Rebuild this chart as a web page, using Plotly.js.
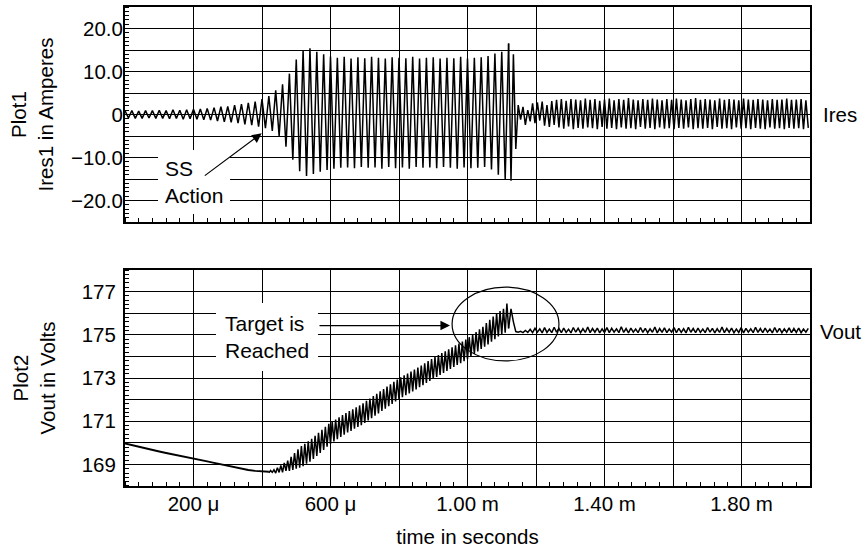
<!DOCTYPE html>
<html>
<head>
<meta charset="utf-8">
<script src="https://cdn.plot.ly/plotly-3.0.1.min.js"></script>
<style>html,body{margin:0;padding:0;background:#fff;}#chart{width:862px;height:550px;}</style>
</head>
<body>
<div id="chart"></div>
<script>
// ---- Data (time in ms) ----
// Ires1 (A): extrema of the tank current during build-up and regulation, sampled every 10 us from 0 ms
const iresBuildup = [
  0.9,-0.8,0.9,-0.9,0.8,-0.9,0.9,-0.8,0.9,-0.9,
  1.0,-0.9,0.9,-1.0,1.1,-0.9,1.0,-1.1,1.1,-1.0,
  1.2,-1.1,1.3,-1.2,1.4,-1.3,1.6,-1.5,1.8,-1.7,
  1.9,-1.8,2.2,-2.0,2.4,-2.3,2.7,-2.5,3.0,-2.8,
  3.6,-3.2,4.3,-3.8,5.6,-5.0,7.0,-7.5,9.5,-10.5,
  12.8,-13.2,15.0,-14.3,15.4,-13.8,14.6,-13.3,14.0,-12.9,
  13.5,-12.6,13.2,-12.4,13.4,-12.3,13.0,-12.5,13.3,-12.2,
  13.1,-12.4,13.4,-12.3,13.2,-12.6,13.0,-12.2,13.3,-12.5,
  13.2,-12.3,13.1,-12.6,13.4,-12.2,13.0,-12.4,13.2,-12.3,
  13.3,-12.5,13.0,-12.2,13.2,-12.4,13.1,-12.6,13.4,-12.3,
  13.0,-12.5,13.2,-12.4,13.3,-12.2,13.6,-12.8,14.2,-14.0,
  14.6,-15.0,16.5
];
// Ires1 (A) after target is reached, sampled every 7 us from 1.12 ms
const iresSettled = [
  16.5,-15.4,14.0,-8.0,2.2,
  -1.2,1.8,-2.4,1.0,-1.6,2.6,-2.0,2.8,-1.4,3.0,-2.6,2.2,-2.9,3.1,-2.4,
  3.4,-3.0,3.6,-3.3,3.2,-2.8,3.6,-3.4,3.5,-3.1,
  3.3,-3.3,3.7,-3.0,3.4,-3.2,3.6,-3.4,3.2,-2.9,
  3.5,-3.3,3.7,-3.1,3.3,-3.4,3.6,-3.0,3.4,-3.3,
  3.8,-3.2,3.5,-3.4,3.3,-2.9,3.6,-3.3,3.4,-3.1,
  3.7,-3.4,3.5,-3.0,3.3,-3.3,3.6,-3.2,3.4,-3.4,
  3.7,-3.1,3.5,-3.3,3.3,-3.0,3.6,-3.4,3.8,-3.2,
  3.4,-3.3,3.6,-3.1,3.5,-3.4,3.3,-2.9,3.7,-3.3,
  3.4,-3.2,3.6,-3.4,3.5,-3.0,3.3,-3.3,3.7,-3.2,
  3.5,-3.4,3.4,-3.1,3.6,-3.3,3.5,-3.4,3.3,-3.0,
  3.6,-3.3,3.4,-3.2,3.5,-3.4,3.7,-3.1,3.4,-3.3,
  3.5,-3.2,3.6,-3.4,3.3,-3.1
];
// Vout (V): initial droop, sampled every 20 us from 0 ms
const voutDroop = [
  169.97,169.89,169.82,169.74,169.67,169.60,169.53,169.47,169.40,169.34,
  169.28,169.21,169.14,169.07,169.00,168.93,168.86,168.80,168.74,168.70,
  168.67,168.66
];
// Vout (V): ramp with ripple, sampled every 5 us from 0.42 ms
const voutRamp = [
  168.61,168.72,168.63,168.75,168.60,168.85,168.63,168.95,168.63,169.07,
  168.70,169.18,168.70,169.35,168.75,169.52,168.80,169.70,168.85,169.85,
  168.92,169.95,169.03,170.07,169.12,170.19,169.25,170.32,169.39,170.46,
  169.53,170.60,169.67,170.74,169.82,170.88,169.95,170.98,170.06,171.08,
  170.17,171.18,170.27,171.28,170.37,171.38,170.48,171.47,170.55,171.55,
  170.65,171.64,170.74,171.73,170.82,171.83,170.92,171.94,171.03,172.05,
  171.14,172.16,171.25,172.27,171.36,172.38,171.47,172.49,171.58,172.60,
  171.69,172.71,171.80,172.82,171.91,172.93,172.02,173.03,172.11,173.12,
  172.20,173.21,172.29,173.30,172.38,173.39,172.47,173.48,172.57,173.58,
  172.67,173.68,172.77,173.78,172.87,173.88,172.96,173.97,173.05,174.06,
  173.14,174.15,173.24,174.24,173.33,174.33,173.42,174.42,173.51,174.51,
  173.60,174.60,173.69,174.69,173.78,174.78,173.87,174.89,173.99,175.01,
  174.11,175.13,174.23,175.25,174.35,175.37,174.45,175.55,174.55,175.70,
  174.68,175.85,174.80,176.00,174.92,176.10,175.02,176.20,175.10,176.45,
  175.30
];
// Vout (V): regulated output, sampled every 7 us from 1.12 ms
const voutSettled = [
  175.30,176.20,175.60,175.15,175.12,175.16,175.10,175.20,175.11,175.26,
  175.10,175.30,175.12,175.28,175.09,175.33,175.11,175.27,175.10,175.35,
  175.12,175.29,175.10,175.31,175.11,175.26,175.09,175.34,175.12,175.30,
  175.10,175.28,175.11,175.36,175.10,175.29,175.12,175.31,175.09,175.27,
  175.11,175.33,175.10,175.30,175.12,175.28,175.10,175.37,175.11,175.29,
  175.09,175.31,175.12,175.27,175.10,175.34,175.11,175.30,175.10,175.28,
  175.12,175.36,175.09,175.29,175.11,175.32,175.10,175.27,175.12,175.33,
  175.10,175.30,175.11,175.28,175.09,175.35,175.12,175.29,175.10,175.31,
  175.11,175.27,175.10,175.34,175.12,175.30,175.09,175.28,175.11,175.36,
  175.10,175.29,175.12,175.31,175.10,175.27,175.11,175.33,175.09,175.30,
  175.12,175.28,175.10,175.35,175.11,175.29,175.10,175.31,175.12,175.27,
  175.09,175.34,175.11,175.30,175.10,175.28,175.12,175.32,175.10,175.29,
  175.11,175.31,175.10,175.27,175.12,175.30
];

// ---- Tick labels ----
const xGridVals = [0.2,0.4,0.6,0.8,1.0,1.2,1.4,1.6,1.8];
const xTickText = ['200 \u03bc','','600 \u03bc','','1.00 m','','1.40 m','','1.80 m'];
const iresGridVals = [-20,-15,-10,-5,0,5,10,15,20];
const iresTickText = ['\u221220.0','','\u221210.0','','0','','10.0','','20.0'];
const voutGridVals = [169,170,171,172,173,174,175,176,177];
const voutTickText = ['169','','171','','173','','175','','177'];

const FONT = 'Liberation Sans, Arial, Helvetica, sans-serif';
const lineStyle = {color:'#000', width:1.5};

const traces = [
  {x0:0, dx:0.01, y:iresBuildup, xaxis:'x', yaxis:'y', mode:'lines', line:lineStyle, hoverinfo:'skip'},
  {x0:1.12, dx:0.007, y:iresSettled, xaxis:'x', yaxis:'y', mode:'lines', line:lineStyle, hoverinfo:'skip'},
  {x0:0, dx:0.02, y:voutDroop, xaxis:'x2', yaxis:'y2', mode:'lines', line:{color:'#000', width:2}, hoverinfo:'skip'},
  {x0:0.42, dx:0.005, y:voutRamp, xaxis:'x2', yaxis:'y2', mode:'lines', line:lineStyle, hoverinfo:'skip'},
  {x0:1.12, dx:0.007, y:voutSettled, xaxis:'x2', yaxis:'y2', mode:'lines', line:lineStyle, hoverinfo:'skip'}
];

function xAxis(anchor, showLabels){
  return {
    domain:[0,1], anchor:anchor, range:[0,2], automargin:false,
    tickmode:'array', tickvals:xGridVals, ticktext:xTickText, showticklabels:showLabels,
    ticks:'', showgrid:true, gridcolor:'#000', gridwidth:1,
    showline:true, linecolor:'#000', linewidth:2, mirror:true, zeroline:false,
    tickfont:{family:FONT, size:20.5, color:'#000'},
    minor:{tickmode:'linear', tick0:0, dtick:0.04, ticks:'inside', ticklen:4, tickwidth:1, tickcolor:'#000', showgrid:false}
  };
}
function yAxis(anchor, domain, range, vals, text, minorStep, title, standoff, titleStandoff){
  return {
    domain:domain, anchor:anchor, range:range, automargin:false,
    tickmode:'array', tickvals:vals, ticktext:text, ticks:'',
    ticklabelstandoff:standoff,
    showgrid:true, gridcolor:'#000', gridwidth:1,
    showline:true, linecolor:'#000', linewidth:2, mirror:true, zeroline:false,
    tickfont:{family:FONT, size:20.5, color:'#000'},
    minor:{tickmode:'linear', tick0:0, dtick:minorStep, ticks:'inside', ticklen:4, tickwidth:1, tickcolor:'#000', showgrid:false},
    title:{text:title, font:{family:FONT, size:20.5, color:'#000'}, standoff:titleStandoff}
  };
}

const x2Axis = xAxis('y2', true);
x2Axis.title = {text:'time in seconds', font:{family:FONT, size:20.5, color:'#000'}, standoff:16};
x2Axis.ticklabelstandoff = -2;

const layout = {
  width:862, height:550,
  margin:{l:125, r:52, t:7, b:64, pad:0},
  paper_bgcolor:'#fff', plot_bgcolor:'#fff',
  font:{family:FONT, size:20.5, color:'#000'},
  showlegend:false,
  xaxis:xAxis('y', false),
  yaxis:yAxis('x', [0.5511,1], [-25,25], iresGridVals, iresTickText, 1, 'Plot1<br>Ires1 in Amperes', -4, 12),
  xaxis2:x2Axis,
  yaxis2:yAxis('x2', [0,0.4509], [168,178], voutGridVals, voutTickText, 0.2, 'Plot2<br>Vout in Volts', 3, 21),
  annotations:[
    {xref:'x', yref:'y', x:0.0964, y:-15.6, xanchor:'left', yanchor:'middle', align:'left',
     text:'SS<br>Action', showarrow:false, bgcolor:'#fff', borderpad:7, borderwidth:0,
     font:{family:FONT, size:21, color:'#000'}},
    {xref:'x', yref:'y', axref:'x', ayref:'y', x:0.399, y:-4.37, ax:0.2286, ay:-14.47,
     text:'', showarrow:true, arrowhead:2, arrowsize:1.6, arrowwidth:1.2, arrowcolor:'#000', standoff:0, startstandoff:0},
    {xref:'x2', yref:'y2', x:0.2657, y:174.92, xanchor:'left', yanchor:'middle', align:'left',
     text:'Target is<br>Reached', showarrow:false, bgcolor:'#fff', borderpad:9, borderwidth:0,
     font:{family:FONT, size:21, color:'#000'}},
    {xref:'x2', yref:'y2', axref:'x2', ayref:'y2', x:0.949, y:175.43, ax:0.5635, ay:175.43,
     text:'', showarrow:true, arrowhead:2, arrowsize:1.6, arrowwidth:1.2, arrowcolor:'#000', standoff:0, startstandoff:0},
    {xref:'paper', yref:'y', x:1, y:0, xanchor:'left', yanchor:'middle', xshift:12, text:'Ires',
     showarrow:false, borderpad:0, font:{family:FONT, size:20.5, color:'#000'}},
    {xref:'paper', yref:'y2', x:1, y:175.15, xanchor:'left', yanchor:'middle', xshift:9, text:'Vout',
     showarrow:false, borderpad:0, font:{family:FONT, size:20.5, color:'#000'}}
  ],
  shapes:[
    {type:'circle', xref:'x2', yref:'y2', x0:0.955, x1:1.267, y0:173.79, y1:177.21,
     line:{color:'#000', width:1.2}, fillcolor:'rgba(0,0,0,0)'}
  ]
};

Plotly.newPlot('chart', traces, layout, {staticPlot:true, displayModeBar:false});
</script>
</body>
</html>
